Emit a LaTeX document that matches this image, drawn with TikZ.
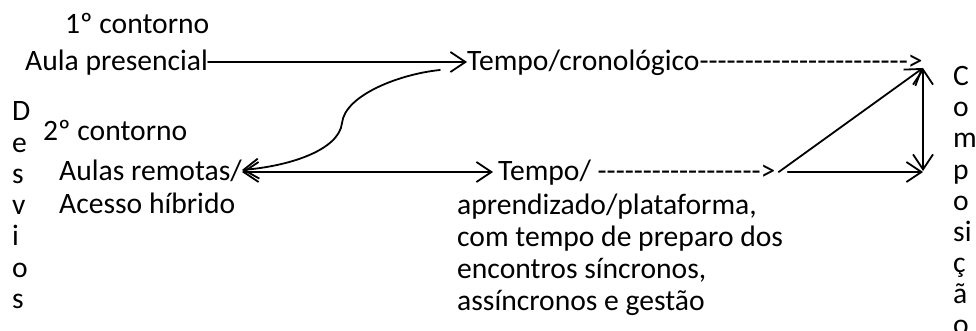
\documentclass[tikz,border=0pt]{standalone}
\usepackage{fontspec}
\setmainfont{Carlito}
\usetikzlibrary{arrows.meta}
\newcommand{\tracos}[1]{\foreach \t in {1,...,#1}{-\kern0pt}}
\tikzset{
  txt/.style={inner sep=0pt, anchor=west, text height=17.8pt, text depth=0pt},
  col/.style={inner sep=0pt, anchor=base west},
  arw/.style={line width=1.8pt, line cap=round, -{Straight Barb[length=15pt,width=20pt]}},
  dblarw/.style={line width=1.8pt, line cap=round, {Straight Barb[length=15pt,width=20pt]}-{Straight Barb[length=15pt,width=20pt]}}
}

\begin{document}
\begin{tikzpicture}[x=1pt, y=-1pt, every node/.style={font=\fontsize{29.6}{32}\selectfont}]
	\useasboundingbox (0,0) rectangle (976,331);

	% primeiro contorno
	\node[txt] (c1) at (65,25) {1º contorno};
	\node[txt] (aula) at (25,62) {Aula presencial};
	\node[txt] (tcron) at (467,62) {Tempo/cronológico\tracos{23}>};

	% segundo contorno
	\node[txt] (c2) at (43,132) {2º contorno};
	\node[txt] (remotas) at (59,172) {Aulas remotas/};
	\node[txt] (hibrido) at (59,205) {Acesso híbrido};
	\node[txt] (tplat) at (498,172) {Tempo/ \tracos{18}>};
	\node[col] (plat1) at (457,214) {aprendizado/plataforma,};
	\node[col] (plat2) at (457,246) {com tempo de preparo dos};
	\node[col] (plat3) at (457,278) {encontros síncronos,};
	\node[col] (plat4) at (457,310) {assíncronos e gestão};

	% palavras na vertical
	\foreach \letra [count=\n from 0] in {D,e,s,v,i,o,s}
		\node[col] (desv\n) at (12,{121+31.2*\n}) {\letra};
	\foreach \letra [count=\n from 0] in {C,o,m,p,o,si,ç,ã,o}
		\node[col] (comp\n) at (953,{86+31*\n}) {\letra};

	\coordinate (cstart) at (440,70);
	\coordinate (cmid) at (342,123);
	\coordinate (ctop) at (923,68);
	\coordinate (cbot) at (923,171);

	\draw[arw] (aula.east) -- (tcron.west);
	\draw[arw] (cstart) .. controls (400,74) and (345,95) .. (cmid)
		.. controls (339,150) and (290,166) .. ([yshift=2pt]remotas.east);
	\draw[dblarw, shorten >=5pt] (remotas.east) -- (tplat.west);

	% triangulo
	\draw[arw] ([xshift=3pt]tplat.east) -- (ctop);
	\draw[arw] ([xshift=12pt]tplat.east) -- (tplat.east -| cbot);
	\draw[dblarw] (ctop) -- (cbot);

\end{tikzpicture}
\end{document}
